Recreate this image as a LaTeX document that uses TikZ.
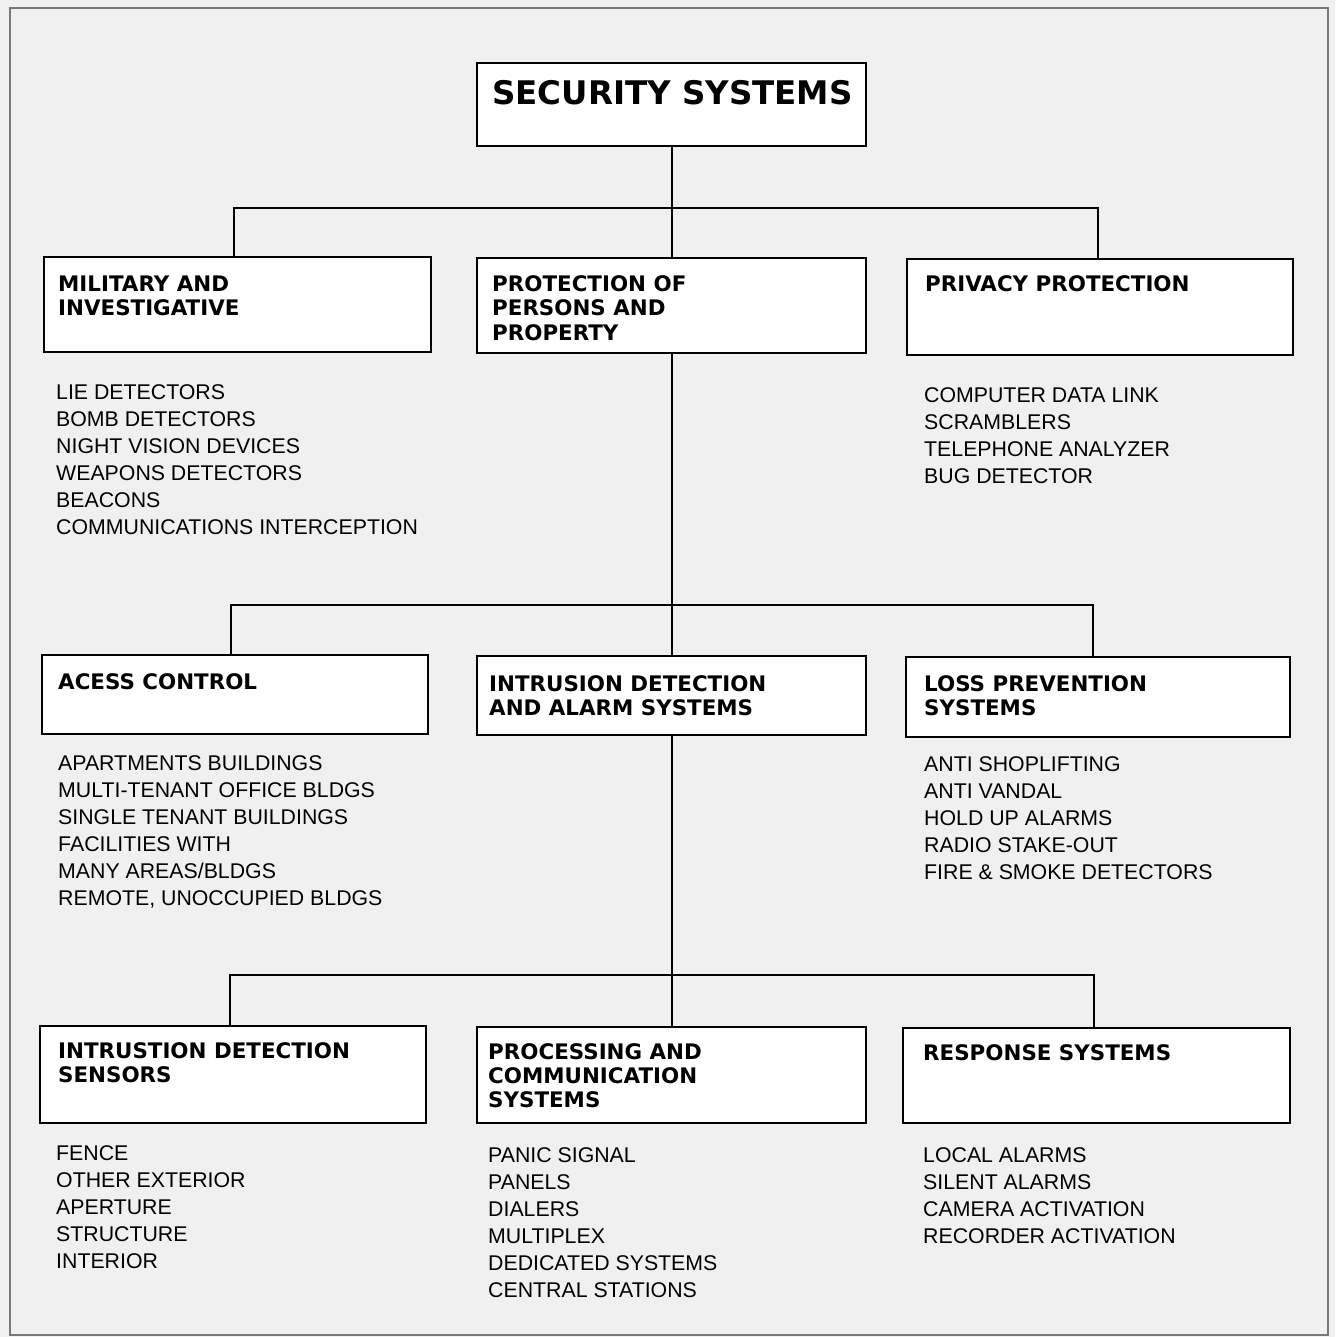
\documentclass[tikz,border=0pt]{standalone}
\usepackage{fontspec}
\setmainfont{Liberation Sans}
\newfontfamily\hdfont{DejaVu Sans}
\definecolor{bg}{RGB}{240,240,240}
\definecolor{frame}{RGB}{120,120,120}
\tikzset{
  box/.style={draw=black, fill=white, line width=2pt, anchor=north west, inner sep=0pt, outer sep=0pt},
  hd/.style={anchor=base west, inner sep=0pt, font={\hdfont\bfseries\fontsize{21.4}{24}\selectfont}},
  title/.style={anchor=base west, inner sep=0pt, font={\hdfont\bfseries\fontsize{32.5}{36}\selectfont}},
  items/.style={anchor=base west, inner sep=0pt, font={\fontsize{21.3}{27}\selectfont}},
  link/.style={line width=2pt, line join=miter},
}
\newcommand{\lines}[1]{\begin{tabular}[t]{@{}l@{}}#1\end{tabular}}
\begin{document}
\begin{tikzpicture}[x=1pt,y=-1pt]
\useasboundingbox (0,0) rectangle (1335,1337);
\fill[bg] (0,0) rectangle (1335,1337);
\draw[frame, line width=1.2pt] (10,8) rectangle (1328,1335);

% boxes
\node[box, minimum width=389pt, minimum height=83pt] (top) at (477,63) {};
\node[box, minimum width=387pt, minimum height=95pt] (mil) at (44,257) {};
\node[box, minimum width=389pt, minimum height=95pt] (pp) at (477,258) {};
\node[box, minimum width=386pt, minimum height=96pt] (priv) at (907,259) {};
\node[box, minimum width=386pt, minimum height=79pt] (acc) at (42,655) {};
\node[box, minimum width=389pt, minimum height=79pt] (ids) at (477,656) {};
\node[box, minimum width=384pt, minimum height=80pt] (loss) at (906,657) {};
\node[box, minimum width=386pt, minimum height=97pt] (sen) at (40,1026) {};
\node[box, minimum width=389pt, minimum height=96pt] (proc) at (477,1027) {};
\node[box, minimum width=387pt, minimum height=95pt] (resp) at (903,1028) {};

% connectors
\coordinate (b1) at (671.5,208);
\coordinate (b2) at (671.5,605);
\coordinate (b3) at (671.5,975);
\draw[link] (top.south) -- (pp.north);
\draw[link] ([xshift=-4pt]mil.north) |- (b1) -| ([xshift=-2pt]priv.north);
\draw[link] (pp.south) -- (ids.north);
\draw[link] ([xshift=-4pt]acc.north) |- (b2) -| ([xshift=-5pt]loss.north);
\draw[link] (ids.south) -- (proc.north);
\draw[link] ([xshift=-3pt]sen.north) |- (b3) -| ([xshift=-3pt]resp.north);

% headings
\node[title] (ttop) at (492,105) {SECURITY SYSTEMS};
\node[hd] (tmil) at (58,292) {\lines{MILITARY AND\\INVESTIGATIVE}};
\node[hd] (tpp) at (492,292) {\lines{PROTECTION OF\\PERSONS AND\\PROPERTY}};
\node[hd] (tpriv) at (925,292) {PRIVACY PROTECTION};
\node[hd] (tacc) at (58,689) {ACESS CONTROL};
\node[hd] (tids) at (489,691) {\lines{INTRUSION DETECTION\\AND ALARM SYSTEMS}};
\node[hd] (tloss) at (924,691) {\lines{LOSS PREVENTION\\SYSTEMS}};
\node[hd] (tsen) at (58,1058) {\lines{INTRUSTION DETECTION\\SENSORS}};
\node[hd] (tproc) at (488,1059) {\lines{PROCESSING AND\\COMMUNICATION\\SYSTEMS}};
\node[hd] (tresp) at (923,1060) {RESPONSE SYSTEMS};

% item lists
\node[items] (imil) at (56,399) {\lines{LIE DETECTORS\\BOMB DETECTORS\\NIGHT VISION DEVICES\\WEAPONS DETECTORS\\BEACONS\\COMMUNICATIONS INTERCEPTION}};
\node[items] (ipriv) at (924,402) {\lines{COMPUTER DATA LINK\\SCRAMBLERS\\TELEPHONE ANALYZER\\BUG DETECTOR}};
\node[items] (iacc) at (58,770) {\lines{APARTMENTS BUILDINGS\\MULTI-TENANT OFFICE BLDGS\\SINGLE TENANT BUILDINGS\\FACILITIES WITH\\MANY AREAS/BLDGS\\REMOTE, UNOCCUPIED BLDGS}};
\node[items] (iloss) at (924,771) {\lines{ANTI SHOPLIFTING\\ANTI VANDAL\\HOLD UP ALARMS\\RADIO STAKE-OUT\\FIRE \& SMOKE DETECTORS}};
\node[items] (isen) at (56,1160) {\lines{FENCE\\OTHER EXTERIOR\\APERTURE\\STRUCTURE\\INTERIOR}};
\node[items] (iproc) at (488,1162) {\lines{PANIC SIGNAL\\PANELS\\DIALERS\\MULTIPLEX\\DEDICATED SYSTEMS\\CENTRAL STATIONS}};
\node[items] (iresp) at (923,1162) {\lines{LOCAL ALARMS\\SILENT ALARMS\\CAMERA ACTIVATION\\RECORDER ACTIVATION}};
\end{tikzpicture}
\end{document}
